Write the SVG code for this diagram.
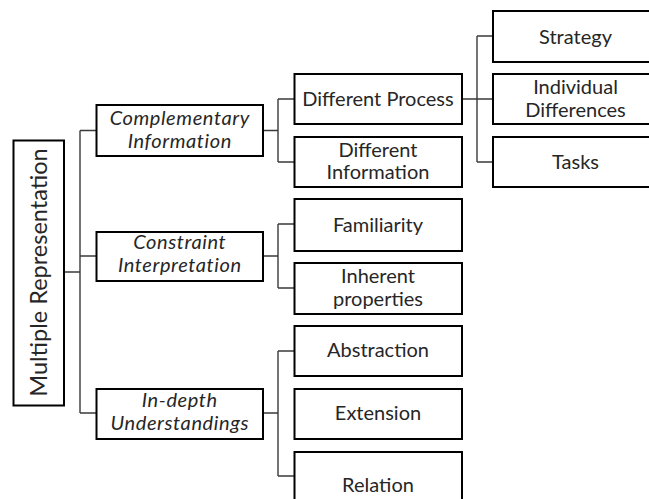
<svg xmlns="http://www.w3.org/2000/svg" width="649" height="499" viewBox="0 0 649 499">
<style>
  .box { fill: #ffffff; stroke: #000000; stroke-width: 2; }
  .conn { fill: none; stroke: #3a3a3a; stroke-width: 1.4; }
  text { font-family: Lato, "Open Sans", sans-serif; font-size: 20px; fill: #262626; text-anchor: middle; }
  .it { font-style: italic; letter-spacing: 0.6px; }
  .root { font-size: 23.5px; }
</style>
<rect width="649" height="499" fill="#ffffff"/>
<g id="connectors">
  <path class="conn" d="M64 272 H80 M80 130.5 V413 M80 130.5 H96 M80 256 H96 M80 413 H96"/>
  <path class="conn" d="M263 130.5 H278 M278 99 V162 M278 99 H294 M278 162 H294"/>
  <path class="conn" d="M263 256 H278 M278 224 V288 M278 224 H294 M278 288 H294"/>
  <path class="conn" d="M263 413 H278 M278 351 V476 M278 351 H294 M278 476 H294"/>
  <path class="conn" d="M462 99 H477 M477 36 V162 M477 36 H493 M477 99 H493 M477 162 H493"/>
</g>
<g id="root">
  <rect class="box" x="13.5" y="140.5" width="50.5" height="265"/>
  <text class="root" transform="translate(47 272.5) rotate(-90)" x="0" y="0">Multiple Representation</text>
</g>
<g id="complementary">
  <rect class="box" x="96.5" y="105" width="166.5" height="51"/>
  <text class="it" x="179.8" y="124.5">Complementary</text>
  <text class="it" x="179.8" y="147.5">Information</text>
</g>
<g id="constraint">
  <rect class="box" x="96.5" y="232" width="166.5" height="49"/>
  <text class="it" x="179.8" y="249">Constraint</text>
  <text class="it" x="179.8" y="272">Interpretation</text>
</g>
<g id="indepth">
  <rect class="box" x="96.5" y="389" width="166.5" height="50"/>
  <text class="it" x="179.8" y="406.5">In-depth</text>
  <text class="it" x="179.8" y="430">Understandings</text>
</g>
<g id="different-process">
  <rect class="box" x="294.5" y="74" width="167.5" height="50"/>
  <text x="378" y="106">Different Process</text>
</g>
<g id="different-information">
  <rect class="box" x="294.5" y="137" width="167.5" height="50"/>
  <text x="378" y="156.5">Different</text>
  <text x="378" y="179">Information</text>
</g>
<g id="familiarity">
  <rect class="box" x="294.5" y="199" width="167.5" height="52"/>
  <text x="378" y="232">Familiarity</text>
</g>
<g id="inherent">
  <rect class="box" x="294.5" y="263" width="167.5" height="51"/>
  <text x="378" y="283">Inherent</text>
  <text x="378" y="305.5">properties</text>
</g>
<g id="abstraction">
  <rect class="box" x="294.5" y="326" width="167.5" height="50"/>
  <text x="378" y="357">Abstraction</text>
</g>
<g id="extension">
  <rect class="box" x="294.5" y="389" width="167.5" height="50"/>
  <text x="378" y="420">Extension</text>
</g>
<g id="relation">
  <rect class="box" x="294.5" y="452" width="167.5" height="70"/>
  <text x="378" y="492">Relation</text>
</g>
<g id="strategy">
  <rect class="box" x="493" y="11" width="167" height="51"/>
  <text x="575.5" y="43.5">Strategy</text>
</g>
<g id="individual">
  <rect class="box" x="493" y="74" width="167" height="50"/>
  <text x="575.5" y="94">Individual</text>
  <text x="575.5" y="117">Differences</text>
</g>
<g id="tasks">
  <rect class="box" x="493" y="137" width="167" height="50"/>
  <text x="575.5" y="168.5">Tasks</text>
</g>
</svg>
